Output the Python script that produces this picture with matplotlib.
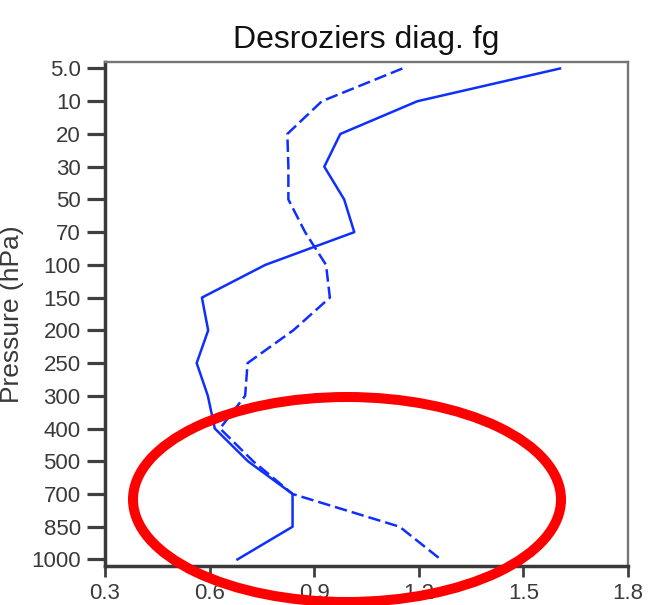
import matplotlib
matplotlib.use("Agg")
import matplotlib.pyplot as plt
from matplotlib.patches import Ellipse
import numpy as np

# pressure levels (hPa), plotted on equally spaced rows
levels = ["5.0", "10", "20", "30", "50", "70", "100", "150", "200",
          "250", "300", "400", "500", "700", "850", "1000"]

# Desroziers ratio, first-guess departures
ratio_dashed = [1.153, 0.922, 0.823, 0.826, 0.826, 0.874, 0.934, 0.945, 0.840,
                0.709, 0.702, 0.630, 0.725, 0.838, 1.145, 1.263]
ratio_solid = [1.605, 1.196, 0.975, 0.929, 0.986, 1.015, 0.760, 0.578, 0.596,
               0.563, 0.595, 0.615, 0.710, 0.838, 0.838, 0.680]

xticks = [0.3, 0.6, 0.9, 1.2, 1.5, 1.8]

plt.rcParams['font.family'] = ['Liberation Sans', 'DejaVu Sans']

fig = plt.figure(figsize=(6.48, 6.05), dpi=100)
ax = fig.add_axes([0.1620, 0.0645, 0.8071, 0.8331])

ypos = np.arange(len(levels))
blue = '#0f2fff'
ax.plot(ratio_solid, ypos, color=blue, lw=1.8)
ax.plot(ratio_dashed, ypos, color=blue, lw=1.8, dashes=(5, 2))

ax.set_xlim(0.3, 1.8)
ax.set_ylim(15.2, -0.2)
ax.set_yticks(ypos)
ax.set_yticklabels(levels)
ax.set_xticks(xticks)
ax.set_xticklabels([f"{v:.1f}" for v in xticks])

ax.tick_params(axis='y', direction='out', length=13, width=2.3, color='#404040',
               labelsize=16, labelcolor='#3a3a3a', pad=4.5)
ax.tick_params(axis='x', direction='out', length=8, width=2.0, color='#404040',
               labelsize=16, labelcolor='#3a3a3a', pad=4.5)

for side in ['left', 'bottom']:
    ax.spines[side].set_linewidth(2.5)
    ax.spines[side].set_color('#3a3a3a')
for side in ['top', 'right']:
    ax.spines[side].set_linewidth(1.7)
    ax.spines[side].set_color('#757575')

ax.set_title('Desroziers diag. fg', fontsize=23, pad=10, color='#111111')
ax.set_ylabel('Pressure (hPa)', fontsize=19, color='#3a3a3a')
ax.yaxis.set_label_coords(-0.155, 0.5)

# red ellipse highlighting the lower troposphere
ring = Ellipse((347 / 648, 1 - 499.5 / 605), 428 / 648, 205 / 605,
               transform=fig.transFigure, fill=False, edgecolor='#ff0000',
               linewidth=7.2, clip_on=False, zorder=5)
fig.add_artist(ring)

fig.savefig('out.png', dpi=100)
